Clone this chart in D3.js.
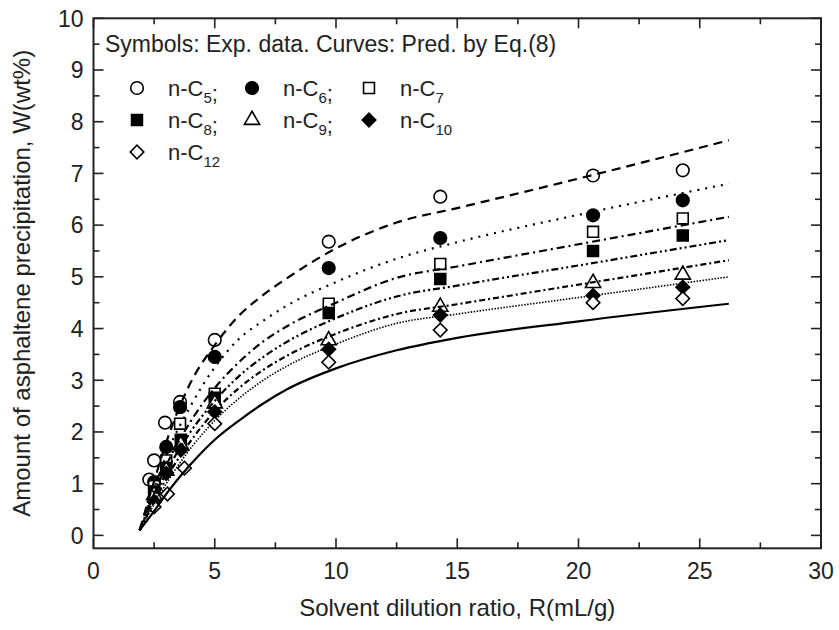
<!DOCTYPE html>
<html>
<head>
<meta charset="utf-8">
<script src="https://cdn.jsdelivr.net/npm/d3@7"></script>
<style>
  html, body { margin: 0; padding: 0; background: #fff; }
  svg { display: block; font-family: "Liberation Sans", Arial, sans-serif; }
</style>
</head>
<body>
<svg id="chart" width="839" height="630"></svg>
<script>
const width = 839;
const height = 630;

// experimental points (R in mL/g, W in wt%)
const rC5 = [2.3, 2.5, 2.95, 3.57, 5.0, 9.7, 14.3, 20.6, 24.3];
const wC5 = [1.08, 1.45, 2.18, 2.58, 3.78, 5.68, 6.55, 6.96, 7.06];
const rC6 = [2.5, 3.0, 3.57, 5.0, 9.7, 14.3, 20.6, 24.3];
const wC6 = [1.03, 1.71, 2.48, 3.45, 5.17, 5.75, 6.19, 6.48];
const rC7 = [2.5, 3.0, 3.57, 5.0, 9.7, 14.3, 20.6, 24.3];
const wC7 = [0.95, 1.45, 2.16, 2.74, 4.48, 5.25, 5.87, 6.13];
const rC8 = [2.5, 3.0, 3.6, 5.0, 9.7, 14.3, 20.6, 24.3];
const wC8 = [0.85, 1.3, 1.85, 2.66, 4.3, 4.96, 5.5, 5.8];
const rC9 = [2.5, 3.0, 3.6, 5.0, 9.7, 14.3, 20.6, 24.3];
const wC9 = [0.78, 1.25, 1.75, 2.55, 3.77, 4.42, 4.88, 5.04];
const rC10 = [2.5, 3.0, 3.6, 5.0, 9.7, 14.3, 20.6, 24.3];
const wC10 = [0.65, 1.2, 1.65, 2.39, 3.6, 4.26, 4.64, 4.8];
const rC12 = [2.5, 3.05, 3.75, 5.0, 9.7, 14.3, 20.6, 24.3];
const wC12 = [0.55, 0.8, 1.3, 2.16, 3.35, 3.97, 4.5, 4.58];

// predicted curves
const curveR = [1.9, 2.5, 3, 4, 5, 6, 7, 8, 10, 12.5, 15, 20, 26.2];
const predC5 = [0.1, 1.05, 1.8, 2.95, 3.68, 4.25, 4.65, 4.98, 5.55, 6.05, 6.33, 6.9, 7.64];
const predC6 = [0.1, 0.9, 1.55, 2.5, 3.25, 3.8, 4.15, 4.45, 4.9, 5.35, 5.67, 6.2, 6.8];
const predC7 = [0.1, 0.8, 1.35, 2.2, 2.85, 3.35, 3.75, 4.05, 4.5, 4.98, 5.2, 5.63, 6.16];
const predC8 = [0.1, 0.72, 1.22, 2.0, 2.6, 3.08, 3.45, 3.75, 4.2, 4.62, 4.83, 5.22, 5.71];
const predC9 = [0.1, 0.65, 1.1, 1.82, 2.4, 2.85, 3.2, 3.48, 3.9, 4.28, 4.47, 4.85, 5.32];
const predC10 = [0.1, 0.6, 1.0, 1.68, 2.22, 2.65, 3.0, 3.28, 3.7, 4.1, 4.28, 4.6, 5.0];
const predC12 = [0.1, 0.47, 0.8, 1.37, 1.85, 2.22, 2.55, 2.83, 3.23, 3.58, 3.82, 4.14, 4.48];

const xTicks = [0, 5, 10, 15, 20, 25, 30];
const yTicks = [0, 1, 2, 3, 4, 5, 6, 7, 8, 9, 10];

// marker + curve style per solvent
const series = [
    { n: "5", r: rC5, w: wC5, p: predC5, shape: "circle", filled: false, dash: "9,6" },
    { n: "6", r: rC6, w: wC6, p: predC6, shape: "circle", filled: true, dash: "2,6" },
    { n: "7", r: rC7, w: wC7, p: predC7, shape: "square", filled: false, dash: "8,4,2,4" },
    { n: "8", r: rC8, w: wC8, p: predC8, shape: "square", filled: true, dash: "7,3,2,3,2,3" },
    { n: "9", r: rC9, w: wC9, p: predC9, shape: "triangle", filled: false, dash: "6,3,2,3" },
    { n: "10", r: rC10, w: wC10, p: predC10, shape: "diamond", filled: true, dash: "1.5,1.5" },
    { n: "12", r: rC12, w: wC12, p: predC12, shape: "diamond", filled: false, dash: null }
];

const margin = { left: 93.5, right: 18, top: 18.3, bottom: 81.7 };

const svg = d3.select("#chart");

const x = d3.scaleLinear().domain([0, 30]).range([margin.left, width - margin.right]);
const y = d3.scaleLinear().domain([-0.25, 10]).range([height - margin.bottom, margin.top]);

const x0 = x.range()[0], x1 = x.range()[1];
const y0 = y.range()[0], y1 = y.range()[1];

// ticks on all four sides, pointing inwards
const xMinor = d3.range(0, 30.01, 2.5);
const yMinor = d3.range(0, 10.01, 0.5);
const tickG = svg.append("g").attr("stroke", "#222").attr("stroke-width", 1.6);
xMinor.forEach(v => {
    const len = v % 5 === 0 ? 10 : 6;
    tickG.append("line").attr("x1", x(v)).attr("x2", x(v)).attr("y1", y0).attr("y2", y0 - len);
    tickG.append("line").attr("x1", x(v)).attr("x2", x(v)).attr("y1", y1).attr("y2", y1 + len);
});
yMinor.forEach(v => {
    const len = Math.abs(v - Math.round(v)) < 1e-6 ? 10 : 6;
    tickG.append("line").attr("y1", y(v)).attr("y2", y(v)).attr("x1", x0).attr("x2", x0 + len);
    tickG.append("line").attr("y1", y(v)).attr("y2", y(v)).attr("x1", x1).attr("x2", x1 - len);
});

svg.append("rect")
    .attr("x", x0).attr("y", y1)
    .attr("width", x1 - x0).attr("height", y0 - y1)
    .attr("fill", "none").attr("stroke", "#222").attr("stroke-width", 2);

// tick labels
svg.append("g").selectAll("text")
    .data(xTicks).join("text")
    .attr("x", d => x(d)).attr("y", y0 + 31)
    .attr("text-anchor", "middle").attr("font-size", 23).attr("fill", "#222")
    .text(d => d);

svg.append("g").selectAll("text")
    .data(yTicks).join("text")
    .attr("x", x0 - 10).attr("y", d => y(d)).attr("dy", "0.36em")
    .attr("text-anchor", "end").attr("font-size", 23).attr("fill", "#222")
    .text(d => d);

// axis titles
svg.append("text")
    .attr("x", (x0 + x1) / 2).attr("y", 616)
    .attr("text-anchor", "middle").attr("font-size", 24).attr("fill", "#222")
    .text("Solvent dilution ratio, R(mL/g)");

svg.append("text")
    .attr("transform", `translate(30,${(y0 + y1) / 2}) rotate(-90)`)
    .attr("text-anchor", "middle").attr("font-size", 24).attr("fill", "#222")
    .text("Amount of asphaltene precipitation, W(wt%)");

// marker path generator
function markerPath(shape) {
    if (shape === "circle") return d3.symbol(d3.symbolCircle, 125)();
    if (shape === "square") return d3.symbol(d3.symbolSquare, 118)();
    if (shape === "triangle") return d3.symbol(d3.symbolTriangle, 100)();
    return d3.symbol(d3.symbolSquare, 92)();
}
function markerTransform(shape, px, py) {
    return shape === "diamond" ? `translate(${px},${py}) rotate(45)` : `translate(${px},${py})`;
}

const markG = svg.append("g");
series.forEach(s => {
    markG.append("g").selectAll("path")
        .data(s.r.map((r, i) => [r, s.w[i]]))
        .join("path")
        .attr("d", markerPath(s.shape))
        .attr("transform", d => markerTransform(s.shape, x(d[0]), y(d[1])))
        .attr("fill", s.filled ? "#000" : "#fff")
        .attr("stroke", "#000")
        .attr("stroke-width", 1.6);
});

// predicted curves
const line = d3.line()
    .x(d => x(d[0]))
    .y(d => y(d[1]))
    .curve(d3.curveMonotoneX);

series.forEach(s => {
    svg.append("path")
        .datum(curveR.map((r, i) => [r, s.p[i]]))
        .attr("d", line)
        .attr("fill", "none")
        .attr("stroke", "#000")
        .attr("stroke-width", s.dash === "1.5,1.5" ? 1.6 : 2.2)
        .attr("stroke-dasharray", s.dash);
});

// legend
const leg = svg.append("g").attr("font-size", 22).attr("fill", "#222");
leg.append("text").attr("x", 105).attr("y", 52).attr("font-size", 23)
    .text("Symbols: Exp. data. Curves: Pred. by Eq.(8)");

const legCols = [137, 252, 369];
const legRows = [88, 120, 152];
series.forEach((s, i) => {
    const cx = legCols[i % 3];
    const cy = legRows[Math.floor(i / 3)];
    leg.append("path")
        .attr("d", markerPath(s.shape))
        .attr("transform", markerTransform(s.shape, cx, cy))
        .attr("fill", s.filled ? "#000" : "#fff")
        .attr("stroke", "#000").attr("stroke-width", 1.6);
    const t = leg.append("text").attr("x", cx + 31).attr("y", cy + 8);
    t.append("tspan").text("n-C");
    t.append("tspan").attr("font-size", 15).attr("dy", 7).text(s.n);
    const sep = (i % 3 === 2 || i === 6) ? "" : ";";
    if (sep) t.append("tspan").attr("dy", -2).text(sep);
});
</script>
</body>
</html>
